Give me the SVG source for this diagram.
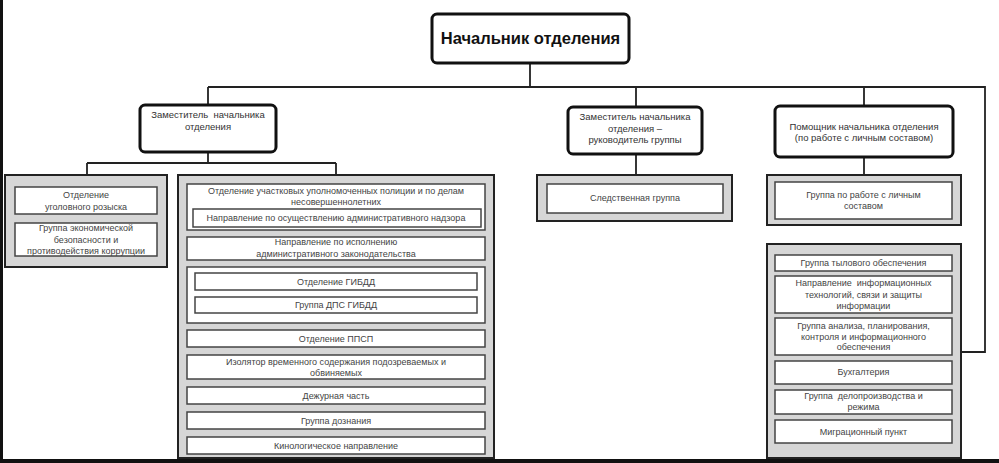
<svg xmlns="http://www.w3.org/2000/svg" width="999" height="463" viewBox="0 0 999 463">
<style>
.head{fill:#fff;stroke:#111;stroke-width:3}
.grp{fill:#d6d6d6;stroke:#222;stroke-width:2}
.box{fill:#fff;stroke:#444;stroke-width:1.5}
.con{fill:none;stroke:#222;stroke-width:1.8}
text{font-family:"Liberation Sans",Arial,sans-serif;text-anchor:middle;fill:#444;font-size:9px;white-space:pre}
.t1{font-size:16.5px;font-weight:bold;fill:#111}
.t2{font-size:9.5px;fill:#333}
</style>
<rect x="0" y="0" width="999" height="463" fill="#fff"/>
<g id="connectors">
<path class="con" d="M530 63V87M208 87H985V352H961M208 87V105M636 87V107M864 87V106"/>
<path class="con" d="M208 152V163M87 163H336M87 163V175M336 163V175"/>
<path class="con" d="M636 154V175M864 157V175"/>
</g>
<g id="head">
<rect class="head" x="432" y="14" width="197" height="49" rx="5"/>
<text class="t1" x="530.5" y="44">Начальник отделения</text>
</g>
<g id="deputy1">
<rect class="head" x="140" y="105" width="136" height="47" rx="5"/>
<text class="t2" x="208" y="118" xml:space="preserve">Заместитель  начальника</text>
<text class="t2" x="208" y="130">отделения</text>
</g>
<g id="deputy2">
<rect class="head" x="568" y="107" width="134" height="47" rx="5"/>
<text class="t2" x="635" y="120">Заместитель начальника</text>
<text class="t2" x="635" y="131.5">отделения –</text>
<text class="t2" x="635" y="143">руководитель группы</text>
</g>
<g id="assistant">
<rect class="head" x="775" y="106" width="178" height="51" rx="5"/>
<text class="t2" x="864" y="130">Помощник начальника отделения</text>
<text class="t2" x="864" y="141">(по работе с личным составом)</text>
</g>
<g id="group-left">
<rect class="grp" x="5" y="175" width="162" height="92"/>
<rect class="box" x="15" y="187" width="142" height="27"/>
<text x="86" y="198">Отделение</text>
<text x="86" y="210">уголовного розыска</text>
<rect class="box" x="15" y="223" width="142" height="33"/>
<text x="86" y="231">Группа экономической</text>
<text x="86" y="243">безопасности и</text>
<text x="86" y="254">противодействия коррупции</text>
</g>
<g id="group-middle">
<rect class="grp" x="178" y="175" width="316" height="283"/>
<rect class="box" x="187" y="184" width="298" height="46"/>
<text x="336" y="194">Отделение участковых уполномоченных полиции и по делам</text>
<text x="336" y="205">несовершеннолетних</text>
<rect class="box" x="193" y="209" width="288" height="18"/>
<text x="336" y="221">Направление по осуществлению административного надзора</text>
<rect class="box" x="187" y="237" width="298" height="23"/>
<text x="336" y="245">Направление по исполнению</text>
<text x="336" y="257">административного законодательства</text>
<rect class="box" x="187" y="267" width="298" height="56"/>
<rect class="box" x="195" y="273" width="282" height="17"/>
<text x="336" y="285">Отделение ГИБДД</text>
<rect class="box" x="195" y="297" width="282" height="16"/>
<text x="336" y="308">Группа ДПС ГИБДД</text>
<rect class="box" x="187" y="330" width="298" height="17"/>
<text x="336" y="341.5">Отделение ППСП</text>
<rect class="box" x="187" y="355" width="298" height="24"/>
<text x="336" y="365">Изолятор временного содержания подозреваемых и</text>
<text x="336" y="375.5">обвиняемых</text>
<rect class="box" x="187" y="387" width="298" height="17"/>
<text x="336" y="398.5">Дежурная часть</text>
<rect class="box" x="187" y="412" width="298" height="17"/>
<text x="336" y="423.5">Группа дознания</text>
<rect class="box" x="187" y="437" width="298" height="17"/>
<text x="336" y="449">Кинологическое направление</text>
</g>
<g id="group-investigation">
<rect class="grp" x="537" y="175" width="195" height="46"/>
<rect class="box" x="547" y="184" width="176" height="29"/>
<text x="635" y="201">Следственная группа</text>
</g>
<g id="group-personnel">
<rect class="grp" x="767" y="175" width="194" height="50"/>
<rect class="box" x="775" y="182" width="177" height="37"/>
<text x="863.5" y="198">Группа по работе с личным</text>
<text x="863.5" y="209">составом</text>
</g>
<g id="group-right">
<rect class="grp" x="767" y="244" width="194" height="214"/>
<rect class="box" x="775" y="255" width="177" height="16"/>
<text x="863.5" y="266">Группа тылового обеспечения</text>
<rect class="box" x="775" y="276" width="177" height="37"/>
<text x="863.5" y="286" xml:space="preserve">Направление  информационных</text>
<text x="863.5" y="298">технологий, связи и защиты</text>
<text x="863.5" y="308.5">информации</text>
<rect class="box" x="775" y="318" width="177" height="37"/>
<text x="863.5" y="329">Группа анализа, планирования,</text>
<text x="863.5" y="339.5">контроля и информационного</text>
<text x="863.5" y="350">обеспечения</text>
<rect class="box" x="775" y="361" width="177" height="23"/>
<text x="863.5" y="375">Бухгалтерия</text>
<rect class="box" x="775" y="390" width="177" height="24"/>
<text x="863.5" y="399" xml:space="preserve">Группа  делопроизводства и</text>
<text x="863.5" y="410">режима</text>
<rect class="box" x="775" y="420" width="177" height="23"/>
<text x="863.5" y="434.5">Миграционный пункт</text>
</g>
<g id="frame">
<rect x="0" y="0" width="3" height="463" fill="#111"/>
<rect x="0" y="459" width="999" height="4" fill="#111"/>
</g>
</svg>
